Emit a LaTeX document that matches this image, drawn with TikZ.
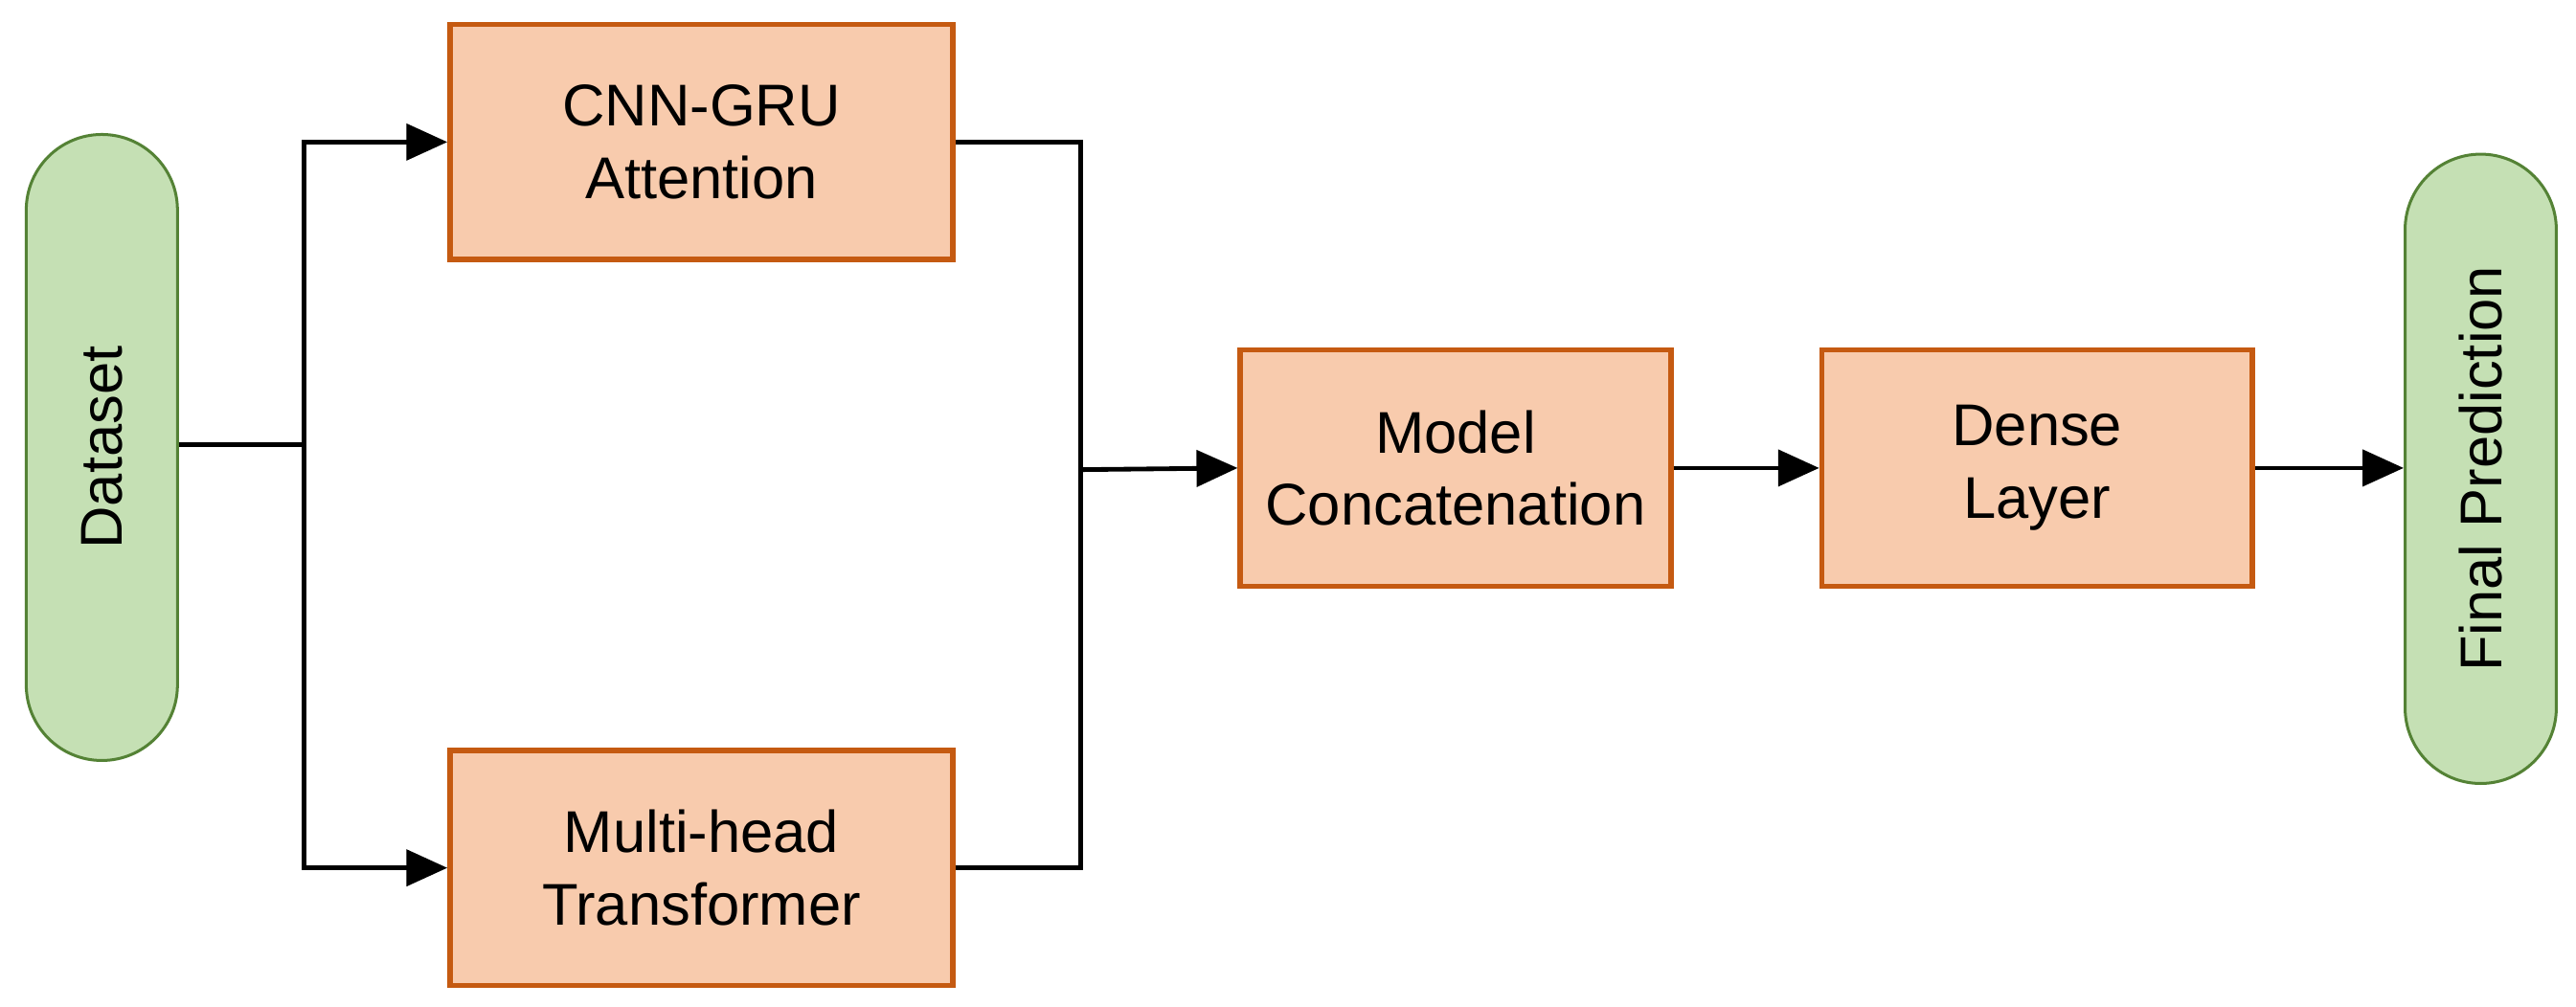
\documentclass[tikz,border=0pt]{standalone}
\usepackage{fontspec}
\setmainfont{Liberation Sans}
\usetikzlibrary{arrows.meta}
\definecolor{gfill}{HTML}{C5E0B4}
\definecolor{gline}{HTML}{548235}
\definecolor{ofill}{HTML}{F8CBAD}
\definecolor{oline}{HTML}{C55A11}
\begin{document}
\begin{tikzpicture}[x=0.01cm,y=-0.01cm,
  box/.style={draw=oline,fill=ofill,line width=0.9pt,inner sep=0pt,align=center,font=\fontsize{10.2}{12.5}\selectfont},
  term/.style={draw=gline,fill=gfill,line width=0.5pt,rounded corners=0.46cm,inner sep=0pt,font=\fontsize{10.2}{12.5}\selectfont},
  conn/.style={line width=0.8pt},
  arr/.style={conn,-{Triangle[length=0.25cm,width=0.22cm]}}]
\useasboundingbox (0,0) rectangle (1568,613);
\node[term,minimum width=3.81cm,minimum height=0.92cm,rotate=90] (ds) at (62,272.5) {Dataset};
\node[term,minimum width=3.83cm,minimum height=0.92cm,rotate=90] (fp) at (1510,285.5) {Final Prediction};
\node[box,minimum width=3.06cm,minimum height=1.43cm] (cnn) at (427,86.5) {CNN-GRU\\Attention};
\node[box,minimum width=3.06cm,minimum height=1.43cm] (mh) at (427,528.5) {Multi-head\\Transformer};
\node[box,minimum width=2.62cm,minimum height=1.44cm] (mc) at (886,285) {Model\\Concatenation};
\node[box,minimum width=2.62cm,minimum height=1.44cm] (dl) at (1240,285) {Dense\\Layer};
\coordinate (s) at (185,271);
\coordinate (j) at (658,286);
\draw[conn] (ds.south |- s) -- (s);
\draw[arr] (s) |- (cnn.west);
\draw[arr] (s) |- (mh.west);
\draw[conn] (cnn.east) -| (j);
\draw[conn] (mh.east) -| (j);
\draw[arr] (j) -- (mc.west);
\draw[arr] (mc.east) -- (dl.west);
\draw[arr] (dl.east) -- (fp.north |- dl.east);
\end{tikzpicture}
\end{document}
